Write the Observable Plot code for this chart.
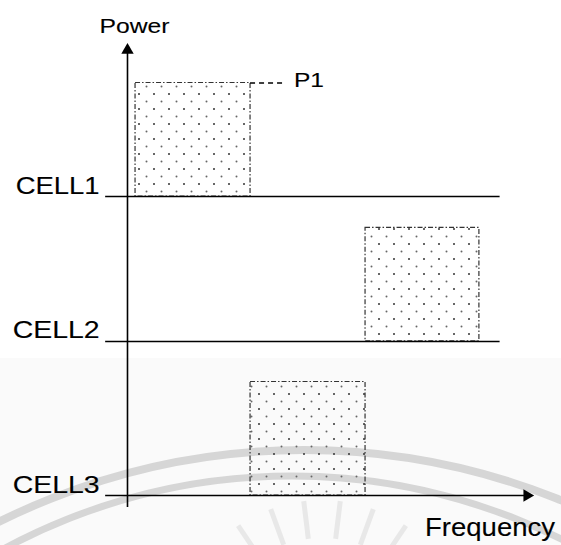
<!DOCTYPE html>
<html><head><meta charset="utf-8">
<script src="https://cdn.jsdelivr.net/npm/d3@7"></script>
<script src="https://cdn.jsdelivr.net/npm/@observablehq/plot@0.6"></script>
<style>
html,body{margin:0;padding:0;background:#fff;}
#chart{width:561px;height:545px;overflow:hidden;position:relative;}
#chart svg{position:absolute;left:0;top:0;}
</style></head><body><div id="chart"></div>
<script>
// ---- data ----
const cells = ["CELL1", "CELL2", "CELL3"];
const cellLevels = [2.634, 1.357, 0];          // baseline power of each cell
const bandCells = ["CELL1", "CELL2", "CELL3"];  // which cell each band sits on
const bandStart = [0.07, 2.07, 1.07];            // frequency start
const bandEnd = [1.07, 3.06, 2.07];              // frequency end
const bandPower = [1.0, 1.0, 1.0];               // power above the cell baseline
const bandLabels = ["P1", "", ""];
const cellLineExtent = [-0.19, 3.24];            // frequency extent of cell lines
const freqAxisExtent = [-0.19, 3.50];            // frequency axis (arrow)
const powerAxisExtent = [-0.106, 3.95];          // power axis (arrow)
const axisTitles = ["Power", "Frequency"];
const leaderLength = [0.29];                     // P1 dashed leader length

// ---- build tables ----
const levelOf = Object.fromEntries(cells.map((c, i) => [c, cellLevels[i]]));
const cellRows = cells.map((c, i) => ({
  cell: c, level: cellLevels[i],
  x1: cellLineExtent[0],
  x2: i === cells.length - 1 ? freqAxisExtent[1] : cellLineExtent[1]
}));
const bands = bandCells.map((c, i) => ({
  cell: c, x1: bandStart[i], x2: bandEnd[i],
  y1: levelOf[c], y2: levelOf[c] + bandPower[i], label: bandLabels[i]
}));
const labelled = bands.filter(d => d.label);
const leaders = labelled.map(d => ({y: d.y2, x1: d.x2, x2: d.x2 + leaderLength[0], label: d.label}));

const font = "Liberation Sans, Arial, sans-serif";
const txt = {fill: "#000", stroke: "#000", strokeWidth: 0.12, fontFamily: font};

const chart = Plot.plot({
  width: 561, height: 545, margin: 0,
  style: {background: "transparent", overflow: "visible"},
  x: {domain: [-1.1043, 3.7739], axis: null},
  y: {domain: [-0.4405, 4.361], axis: null},
  marks: [
    Plot.rect(bands, {x1: "x1", x2: "x2", y1: "y1", y2: "y2",
      fill: "url(#dotpat)", stroke: "#333", strokeWidth: 1.2, strokeDasharray: "5,2,1.5,2"}),
    Plot.ruleY(cellRows, {y: "level", x1: "x1", x2: "x2", stroke: "#000", strokeWidth: 1.6}),
    Plot.ruleX([0], {y1: powerAxisExtent[0], y2: powerAxisExtent[1], stroke: "#000", strokeWidth: 1.6}),
    // arrowheads
    Plot.dot([{x: 0, y: powerAxisExtent[1], rot: 0}], {x: "x", y: "y", dy: 3, rotate: "rot",
      symbol: "triangle", r: 4.6, fill: "#000", stroke: "none"}),
    Plot.dot([{x: freqAxisExtent[1], y: 0, rot: 90}], {x: "x", y: "y", dx: -3, rotate: "rot",
      symbol: "triangle", r: 4.6, fill: "#000", stroke: "none"}),
    // leader for P1
    Plot.ruleY(leaders, {y: "y", x1: "x1", x2: "x2", stroke: "#000", strokeWidth: 1.3, strokeDasharray: "5,4"}),
    Plot.text(leaders, {x: "x2", y: "y", text: "label", dx: 10, dy: 4, textAnchor: "start", lineAnchor: "bottom",
      fontSize: 21, ...txt}),
    // cell labels
    Plot.text(cellRows, {x: cellLineExtent[0], y: "level", text: "cell", dx: -6, dy: -3,
      textAnchor: "end", lineAnchor: "bottom", fontSize: 24, ...txt}),
    // axis titles
    Plot.text([axisTitles[0]], {x: 0, y: powerAxisExtent[1], text: d => d, dx: 7, dy: -14,
      textAnchor: "middle", lineAnchor: "bottom", fontSize: 21, ...txt}),
    Plot.text([axisTitles[1]], {x: freqAxisExtent[1], y: 0, text: d => d, dx: 25, dy: 40,
      textAnchor: "end", lineAnchor: "bottom", fontSize: 26, ...txt})
  ]
});

const svg = d3.select(chart);

// faint background watermark (decorative, behind the diagram)
const bg = svg.insert("g", ":first-child").attr("aria-hidden", "true");
bg.append("rect").attr("x", 0).attr("y", 358).attr("width", 561).attr("height", 187).attr("fill", "#fafafa");
bg.append("circle").attr("cx", 304).attr("cy", 1133).attr("r", 683)
  .attr("fill", "none").attr("stroke", "#d6d6d6").attr("stroke-width", 8);
bg.append("circle").attr("cx", 292).attr("cy", 1082).attr("r", 606)
  .attr("fill", "none").attr("stroke", "#d6d6d6").attr("stroke-width", 7);
const rayAngles = [-48, -34, -20, -7, 7, 20, 34, 48];
rayAngles.forEach(a => {
  const t = (a - 90) * Math.PI / 180, cx = 322, cy = 650;
  bg.append("line")
    .attr("x1", cx + 112 * Math.cos(t)).attr("y1", cy + 112 * Math.sin(t))
    .attr("x2", cx + 150 * Math.cos(t)).attr("y2", cy + 150 * Math.sin(t))
    .attr("stroke", "#e8e8e8").attr("stroke-width", 5);
});

// dot pattern (transparent ground, so the watermark shows through as in the reference)
const defs = svg.insert("defs", ":first-child");
const pat = defs.append("pattern").attr("id", "dotpat").attr("patternUnits", "userSpaceOnUse")
  .attr("width", 15).attr("height", 15).attr("x", 0).attr("y", 0);
pat.append("circle").attr("cx", 4).attr("cy", 4).attr("r", 1).attr("fill", "#333");
pat.append("circle").attr("cx", 11.5).attr("cy", 11.5).attr("r", 1).attr("fill", "#666");

// stretch text widths to match the reference glyph widths
const widths = {"Power": 70, "P1": 30, "CELL1": 84, "CELL2": 87, "CELL3": 87, "Frequency": 130};
svg.selectAll("text").each(function () {
  const w = widths[this.textContent];
  if (w) { this.setAttribute("textLength", w); this.setAttribute("lengthAdjust", "spacingAndGlyphs"); }
});

document.getElementById("chart").appendChild(chart);
</script></body></html>
